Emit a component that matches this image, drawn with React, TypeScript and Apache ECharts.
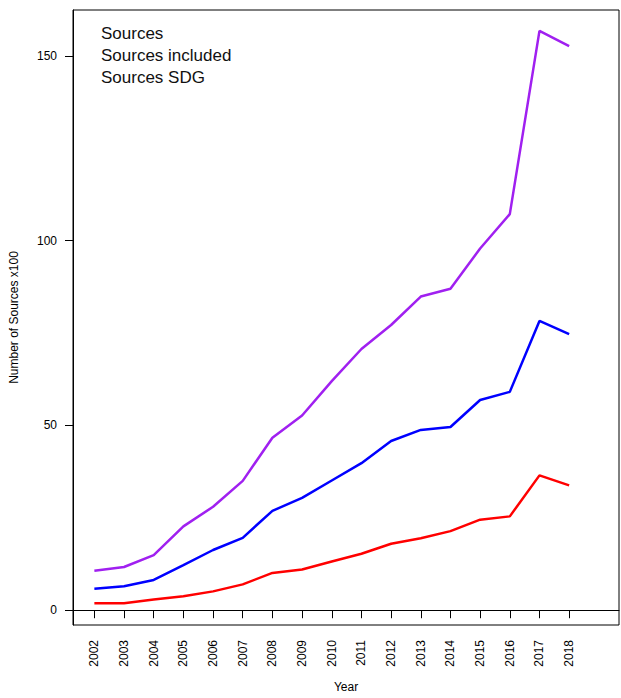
import React, { useEffect, useRef } from "react";
import * as echarts from "echarts";

const years = [2002, 2003, 2004, 2005, 2006, 2007, 2008, 2009, 2010, 2011, 2012, 2013, 2014, 2015, 2016, 2017, 2018];
const sources = [10.7, 11.7, 14.9, 22.7, 28.0, 35.0, 46.7, 52.7, 62.0, 70.7, 77.2, 84.9, 87.0, 97.9, 107.2, 156.8, 152.7];
const sourcesIncluded = [5.8, 6.5, 8.2, 12.2, 16.3, 19.6, 26.9, 30.4, 35.1, 39.8, 45.8, 48.8, 49.6, 56.9, 59.1, 78.3, 74.7];
const sourcesSDG = [1.9, 1.9, 2.9, 3.8, 5.1, 7.0, 10.1, 11.0, 13.2, 15.3, 18.0, 19.5, 21.4, 24.5, 25.4, 36.5, 33.8];
const yTicks = [0, 50, 100, 150];
const legendLabels = ["Sources", "Sources included", "Sources SDG"];

const FONT = "'Liberation Sans', Arial, Helvetica, sans-serif";

export default function App() {
  const ref = useRef<HTMLDivElement>(null);
  useEffect(() => {
    if (!ref.current) return;
    const chart = echarts.init(ref.current, null, { renderer: "svg" });
    const mk = (vals: number[]) => years.map((y, i) => [y, vals[i]]);
    const colors = ["#A020F0", "#0000FF", "#FF0000"];
    const seriesVals = [sources, sourcesIncluded, sourcesSDG];
    chart.setOption({
      animation: false,
      backgroundColor: "#ffffff",
      textStyle: { fontFamily: FONT },
      grid: {
        left: 65,
        top: 10,
        width: 554,
        height: 625,
        show: true,
        borderColor: "#000",
        borderWidth: 1,
        backgroundColor: "transparent",
      },
      xAxis: {
        type: "value",
        min: 2001.28,
        max: 2019.68,
        name: "Year",
        nameLocation: "middle",
        nameGap: 56,
        nameTextStyle: { color: "#000", fontSize: 12, fontFamily: FONT },
        axisLine: { show: true, lineStyle: { color: "#000", width: 1 } },
        axisTick: { show: true, customValues: years, length: 8, lineStyle: { color: "#000" } },
        axisLabel: {
          customValues: years,
          rotate: 90,
          margin: 15,
          color: "#000",
          fontSize: 12,
          fontFamily: FONT,
          formatter: (v: number) => String(Math.round(v)),
        },
        splitLine: { show: false },
      },
      yAxis: {
        type: "value",
        min: -4,
        max: 162.45,
        name: "Number of Sources x100",
        nameLocation: "middle",
        nameGap: 53,
        nameTextStyle: { color: "#000", fontSize: 12, fontFamily: FONT },
        axisLine: { show: true, lineStyle: { color: "#000", width: 1 } },
        axisTick: { show: true, customValues: yTicks, length: 8, lineStyle: { color: "#000" } },
        axisLabel: {
          customValues: yTicks,
          margin: 16,
          color: "#000",
          fontSize: 12,
          fontFamily: FONT,
        },
        splitLine: { show: false },
      },
      graphic: legendLabels.map((t, i) => ({
        type: "text",
        left: 101,
        top: 25 + i * 22,
        style: { text: t, fontSize: 17, fill: "#111", fontFamily: FONT },
      })),
      series: seriesVals.map((vals, i) => ({
        type: "line",
        name: legendLabels[i],
        data: mk(vals),
        showSymbol: false,
        symbol: "none",
        lineStyle: { color: colors[i], width: 2.5 },
        itemStyle: { color: colors[i] },
      })),
    });
    return () => chart.dispose();
  }, []);
  return (
    <div
      ref={ref}
      style={{ position: "absolute", left: 0, top: 0, width: 621, height: 698, background: "#fff" }}
    />
  );
}
